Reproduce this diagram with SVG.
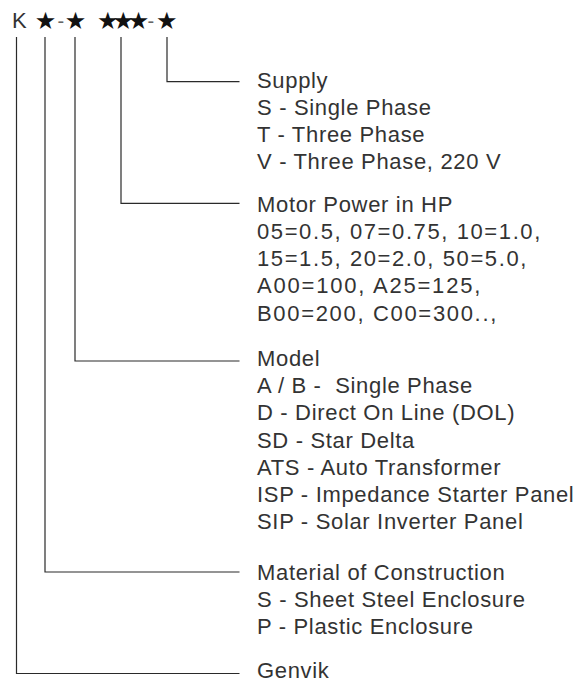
<svg xmlns="http://www.w3.org/2000/svg" width="579" height="683" viewBox="0 0 579 683">
<style>
.t{font-family:"Liberation Sans",Arial,sans-serif;font-size:22px;fill:#333;letter-spacing:0.67px}
.code{font-family:"Liberation Sans",Arial,sans-serif;font-size:22px;fill:#333}
.star{font-family:"DejaVu Sans",sans-serif;font-size:24px;fill:#111}
.dash{font-family:"Liberation Sans",Arial,sans-serif;font-size:20px;fill:#666}
.c{fill:none;stroke:#2a2a2a;stroke-width:1.2}
</style>
<rect width="579" height="683" fill="#fff"/>
<g id="code">
<text class="code" x="12" y="28.3">K</text>
<text class="star" y="29" text-anchor="middle"><tspan x="45.5">★</tspan><tspan x="75.5">★</tspan><tspan x="166.7">★</tspan></text>
<text class="star" x="97" y="29" letter-spacing="-6.1">★★★</text>
<text class="dash" y="27.5" text-anchor="middle"><tspan x="60.8">-</tspan><tspan x="150.8">-</tspan></text>
</g>
<g id="connectors">
<polyline class="c" points="16.5,37 16.5,673.5 239.5,673.5"/>
<polyline class="c" points="45,37 45,572 239.5,572"/>
<polyline class="c" points="75,37 75,361 239.5,361"/>
<polyline class="c" points="121,37 121,203.3 239.5,203.3"/>
<polyline class="c" points="167,37 167,81.7 239.5,81.7"/>
</g>
<g id="supply">
<text class="t" x="257" y="87.5">Supply</text>
<text class="t" x="257" y="114.7">S - Single Phase</text>
<text class="t" x="257" y="141.9">T - Three Phase</text>
<text class="t" x="257" y="169.1">V - Three Phase, 220 V</text>
</g>
<g id="motor-power">
<text class="t" x="257" y="211.7">Motor Power in HP</text>
<text class="t" x="257" y="238.9" textLength="284" lengthAdjust="spacing">05=0.5, 07=0.75, 10=1.0,</text>
<text class="t" x="257" y="266.1" textLength="270" lengthAdjust="spacing">15=1.5, 20=2.0, 50=5.0,</text>
<text class="t" x="257" y="293.3" textLength="224" lengthAdjust="spacing">A00=100, A25=125,</text>
<text class="t" x="257" y="320.5" textLength="240" lengthAdjust="spacing">B00=200, C00=300..,</text>
</g>
<g id="model">
<text class="t" x="257" y="366">Model</text>
<text class="t" x="257" y="393.2" xml:space="preserve">A / B -  Single Phase</text>
<text class="t" x="257" y="420.4">D - Direct On Line (DOL)</text>
<text class="t" x="257" y="447.6">SD - Star Delta</text>
<text class="t" x="257" y="474.8">ATS - Auto Transformer</text>
<text class="t" x="257" y="502">ISP - Impedance Starter Panel</text>
<text class="t" x="257" y="529.2">SIP - Solar Inverter Panel</text>
</g>
<g id="material">
<text class="t" x="257" y="580">Material of Construction</text>
<text class="t" x="257" y="607.2">S - Sheet Steel Enclosure</text>
<text class="t" x="257" y="634.4">P - Plastic Enclosure</text>
</g>
<g id="genvik">
<text class="t" x="257" y="677.5">Genvik</text>
</g>
</svg>
